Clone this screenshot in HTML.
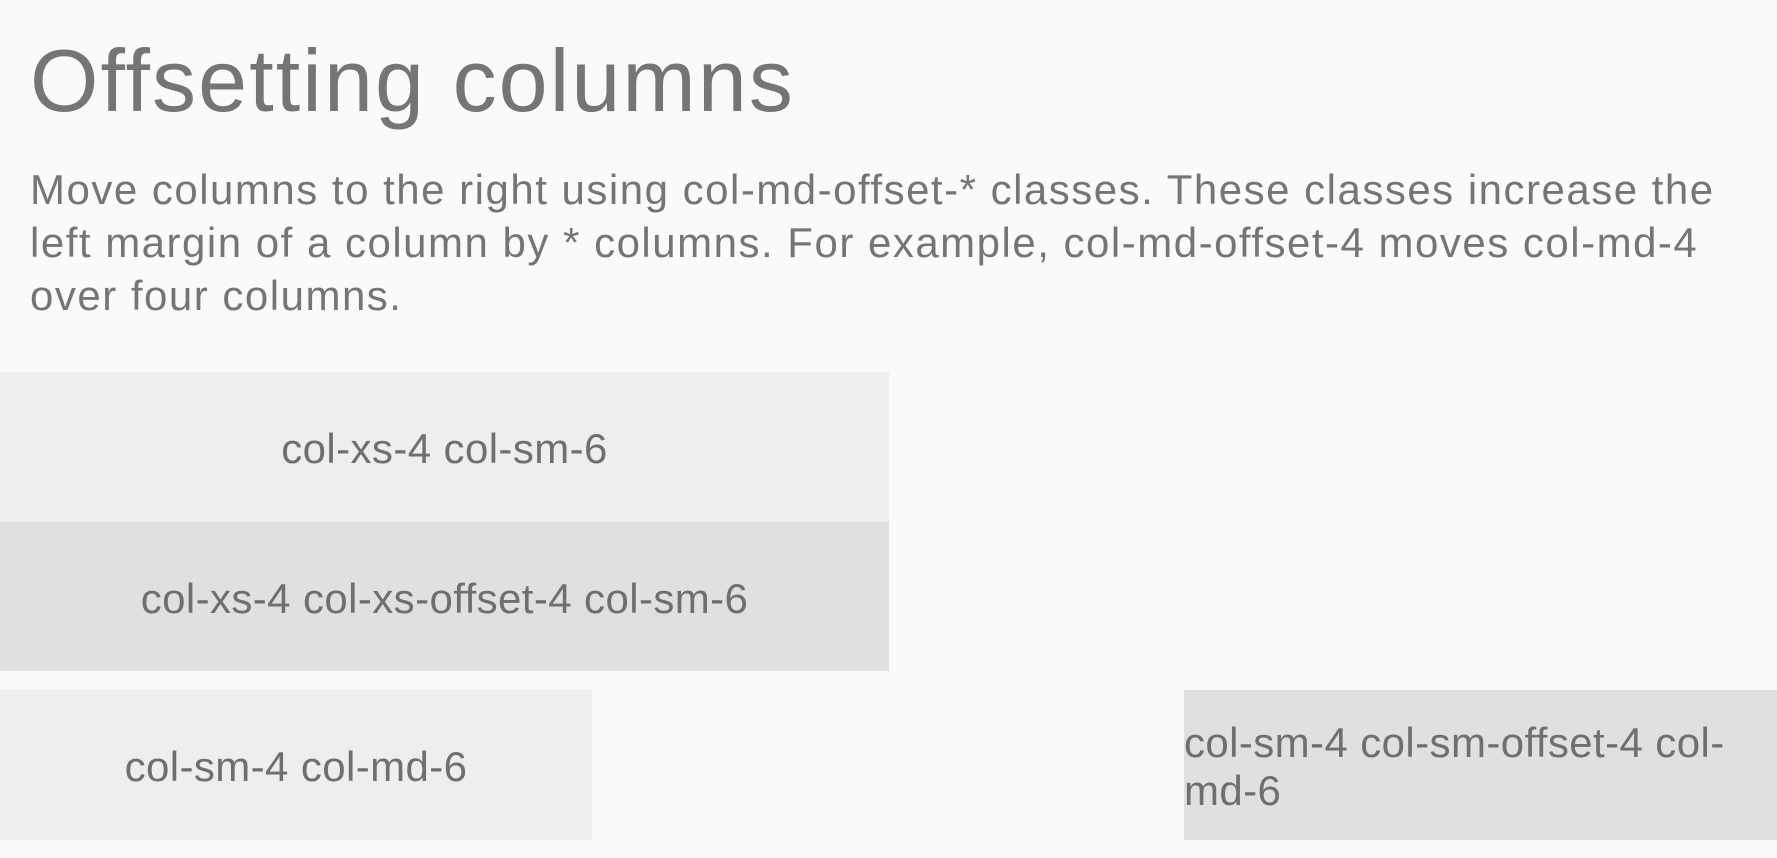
<!DOCTYPE html>
<html><head><meta charset="utf-8"><style>
html,body{margin:0;padding:0;width:1777px;height:858px;background:#fafafa;overflow:hidden;font-family:"Liberation Sans",sans-serif;color:#757575}
.t{position:absolute;left:30px;top:33px;font-size:88px;letter-spacing:2.1px;white-space:nowrap;line-height:1.1}
.p{position:absolute;left:30px;top:163px;font-size:42px;line-height:53px;white-space:nowrap;letter-spacing:1.5px}
.b{position:absolute;display:flex;align-items:center;justify-content:center;font-size:42px;color:#6f6f6f;letter-spacing:0.4px;padding-top:4px;box-sizing:border-box}
</style></head><body>
<div class="t">Offsetting columns</div>
<div class="p">Move columns to the right using col-md-offset-* classes. These classes increase the<br>left margin of a column by * columns. For example, col-md-offset-4 moves col-md-4<br>over four columns.</div>
<div class="b" style="left:0;top:372px;width:889px;height:150px;background:#eeeeee">col-xs-4 col-sm-6</div>
<div class="b" style="left:0;top:522px;width:889px;height:149px;background:#e0e0e0">col-xs-4 col-xs-offset-4 col-sm-6</div>
<div class="b" style="left:0;top:690px;width:592px;height:150px;background:#eeeeee">col-sm-4 col-md-6</div>
<div class="b" style="left:1184px;top:690px;width:593px;height:150px;background:#e0e0e0;justify-content:flex-start;line-height:48px">
<div>col-sm-4 col-sm-offset-4 col-<br>md-6</div></div>
</body></html>
